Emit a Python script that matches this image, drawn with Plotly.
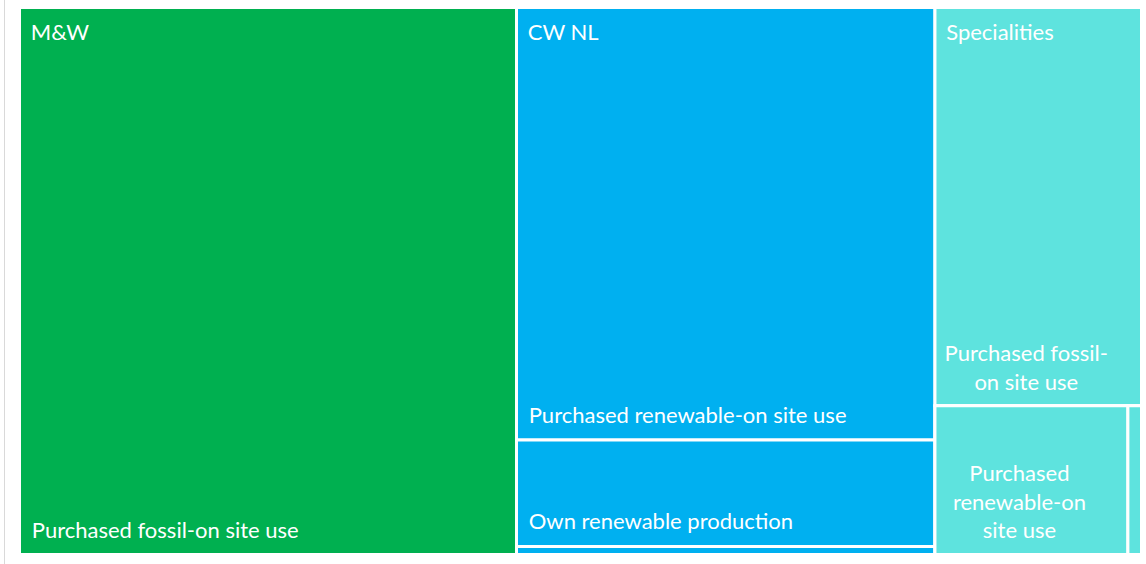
import plotly.graph_objects as go

# ---------------- data ----------------
groups = ["M&W", "CW NL", "Specialities"]
group_colors = ["#00B050", "#00B0F0", "#5EE3DE"]

leaf_groups = ["M&W", "CW NL", "CW NL", "CW NL",
               "Specialities", "Specialities", "Specialities"]
leaf_labels = ["Purchased fossil-on site use",
               "Purchased renewable-on site use",
               "Own renewable production",
               "Purchased fossil-on site use",
               "Purchased fossil-on site use",
               "Purchased renewable-on site use",
               "Own renewable production"]
leaf_values = [44.3, 29.5, 7.25, 0.55, 13.4, 4.68, 0.33]

# narrow tiles: wrapped label text
wrapped_labels = {"Purchased fossil-on site use": "Purchased fossil-<br>on site use",
                  "Purchased renewable-on site use": "Purchased<br>renewable-on<br>site use"}
narrow_groups = ["Specialities"]
# the smaller Specialities tiles share one bottom row
bottom_row = {"Specialities": [5, 6]}

# ---------------- build hierarchy ----------------
total = sum(leaf_values)
ids, labels, parents, values, colors, texts, kinds = [], [], [], [], [], [], []
for g, c in zip(groups, group_colors):
    ids.append(g); labels.append(g); parents.append(""); values.append(0)
    colors.append(c); texts.append(g); kinds.append("group")
for g, idx in bottom_row.items():
    ids.append(g + "|row"); labels.append(""); parents.append(g); values.append(0)
    colors.append(group_colors[groups.index(g)]); texts.append(""); kinds.append("row")
for i, (g, lab, v) in enumerate(zip(leaf_groups, leaf_labels, leaf_values)):
    par = g
    for gg, idx in bottom_row.items():
        if gg == g and i in idx:
            par = g + "|row"
    ids.append(g + "|" + lab); labels.append(lab); parents.append(par); values.append(v)
    colors.append(group_colors[groups.index(g)])
    texts.append(wrapped_labels.get(lab, lab) if g in narrow_groups else lab)
    if v / total < 0.02:
        kinds.append("tiny")
    elif g in narrow_groups:
        kinds.append("leaf_narrow")
    else:
        kinds.append("leaf")

group_totals = [sum(v for gg, v in zip(leaf_groups, leaf_values) if gg == g) for g in groups]

W, H = 1146, 564
X0, X1, Y0, Y1 = 19.5, 1141.5, 7.5, 554.5   # tile area in pixels

FONT = dict(family="Lato, 'Open Sans', sans-serif", size=22, color="white")
clear = ["rgba(0,0,0,0)"] * len(ids)

common = dict(ids=ids, labels=labels, parents=parents, values=values, text=texts,
              branchvalues="remainder", sort=True,
              tiling=dict(packing="slice-dice", pad=0),
              pathbar=dict(visible=False), textinfo="none",
              textfont=FONT, insidetextfont=FONT, outsidetextfont=FONT)


def dom(x0, x1, y0, y1):
    return dict(x=[max(0, x0 / W), min(1, x1 / W)],
                y=[max(0, 1 - y1 / H), min(1, 1 - y0 / H)])


fig = go.Figure()
# tiles
fig.add_trace(go.Treemap(
    **common, domain=dom(X0, X1, Y0, Y1),
    marker=dict(colors=colors, line=dict(color="white", width=3),
                pad=dict(t=0, l=0, r=0, b=0)),
    hovertemplate="%{label}<br>%{value}<extra></extra>"))
# leaf labels (left aligned, bottom)
fig.add_trace(go.Treemap(
    **common, domain=dom(X0 - 2, X1 - 2, Y0 - 9, Y1 - 9),
    marker=dict(colors=clear, line=dict(width=0), pad=dict(t=0, l=0, r=0, b=0)),
    texttemplate=["\u00a0\u00a0%{text}" if k == "leaf" else "" for k in kinds],
    textposition="bottom left", hoverinfo="skip"))
# leaf labels of narrow tiles (centred, bottom)
fig.add_trace(go.Treemap(
    **common, domain=dom(X0 - 12, X1 - 12, Y0 - 8, Y1 - 8),
    marker=dict(colors=clear, line=dict(width=0), pad=dict(t=0, l=0, r=0, b=0)),
    texttemplate=["%{text}" if k == "leaf_narrow" else "" for k in kinds],
    textposition="bottom center", hoverinfo="skip"))
# group labels (top left)
fig.add_trace(go.Treemap(
    ids=groups, labels=groups, parents=[""] * len(groups), values=group_totals,
    sort=True, tiling=dict(packing="slice-dice", pad=0),
    pathbar=dict(visible=False), textinfo="label",
    texttemplate="\u00a0\u00a0%{label}",
    textfont=FONT, insidetextfont=FONT,
    domain=dom(X0 - 3, X1 - 3, Y0 + 7, Y1 + 7),
    marker=dict(colors=["rgba(0,0,0,0)"] * len(groups), line=dict(width=0),
                pad=dict(t=0, l=0, r=0, b=0)),
    textposition="top left", hoverinfo="skip"))

fig.add_shape(type="line", xref="paper", yref="paper",
              x0=4.5 / W, x1=4.5 / W, y0=0, y1=1,
              line=dict(color="#D9D9D9", width=1))

fig.update_layout(width=W, height=H, margin=dict(l=0, r=0, t=0, b=0),
                  paper_bgcolor="white", showlegend=False,
                  font=dict(family="Lato, sans-serif"))
fig.write_html("out.html")
